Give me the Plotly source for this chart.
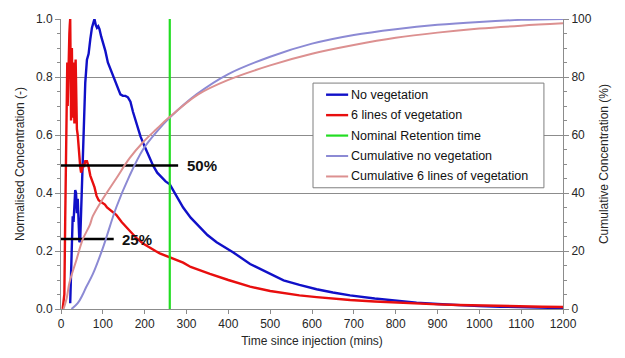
import plotly.graph_objects as go

# --- Normalised concentration, no vegetation ---
t_noveg = [22, 24, 26, 28, 30, 32, 34, 36, 38, 40, 42, 44, 46, 48, 50, 52, 55, 58, 62, 66,
           70, 74, 78, 80, 83, 86, 89, 92, 96, 100, 106, 112, 120, 128, 136, 142, 148, 154,
           160, 166, 172, 180, 190, 200, 210, 220, 230, 240, 250, 260, 275, 292, 310, 332,
           350, 372, 400, 412, 452, 500, 532, 570, 611, 650, 691, 750, 800, 850, 900, 950,
           1000, 1050, 1100, 1150, 1200]
c_noveg = [0.02, 0.12, 0.25, 0.32, 0.30, 0.36, 0.41, 0.40, 0.33, 0.38, 0.28, 0.23, 0.24, 0.33,
           0.45, 0.55, 0.68, 0.78, 0.86, 0.88, 0.93, 0.97, 0.99, 1.00, 0.98, 0.97, 0.975, 0.965,
           0.94, 0.92, 0.89, 0.85, 0.82, 0.79, 0.76, 0.74, 0.735, 0.735, 0.73, 0.715, 0.68,
           0.64, 0.595, 0.56, 0.525, 0.495, 0.47, 0.455, 0.44, 0.43, 0.39, 0.35, 0.315, 0.28,
           0.255, 0.23, 0.205, 0.195, 0.155, 0.12, 0.099, 0.083, 0.068, 0.057, 0.047, 0.036,
           0.028, 0.022, 0.017, 0.013, 0.010, 0.008, 0.006, 0.004, 0.003]

# --- Normalised concentration, 6 lines of vegetation ---
t_veg = [4, 8, 10, 12, 14, 15, 16, 17, 18, 19, 20, 21, 22, 23, 24, 25, 26, 27, 28, 29, 30,
         31, 32, 33, 34, 35, 36, 37, 38, 40, 42, 44, 46, 48, 50, 52, 55, 58, 62, 66, 70, 75,
         80, 85, 90, 95, 100, 105, 110, 120, 132, 145, 155, 164, 180, 196, 213, 226, 236,
         258, 275, 292, 310, 328, 356, 400, 452, 500, 532, 570, 611, 650, 691, 750, 800,
         850, 900, 950, 1000, 1050, 1100, 1150, 1200]
c_veg = [0.0, 0.05, 0.30, 0.60, 0.78, 0.85, 0.70, 0.80, 0.88, 0.92, 0.95, 0.98, 1.00, 0.85,
         0.65, 0.78, 0.90, 0.80, 0.66, 0.72, 0.85, 0.75, 0.64, 0.70, 0.82, 0.86, 0.78, 0.68,
         0.62, 0.60, 0.55, 0.50, 0.49, 0.47, 0.48, 0.50, 0.49, 0.51, 0.51, 0.49, 0.46, 0.44,
         0.42, 0.39, 0.375, 0.37, 0.365, 0.36, 0.35, 0.34, 0.325, 0.30, 0.285, 0.27, 0.245,
         0.226, 0.21, 0.20, 0.192, 0.18, 0.17, 0.16, 0.145, 0.135, 0.121, 0.10, 0.077, 0.062,
         0.054, 0.047, 0.041, 0.036, 0.031, 0.026, 0.022, 0.019, 0.016, 0.014, 0.012, 0.010,
         0.009, 0.008, 0.007]

# --- Cumulative concentration (%) ---
t_cum_noveg = [25, 40, 52, 60, 76, 100, 132, 164, 196, 228, 260, 324, 400, 500, 600, 700,
               800, 900, 1000, 1100, 1200]
cum_noveg = [0, 2, 5, 7.5, 12, 21, 35, 46, 55, 61, 66, 74, 81, 87, 91.5, 94.5, 96.5, 98,
             99, 99.7, 100]

t_cum_veg = [6, 14, 20, 37, 52, 69, 76, 100, 132, 164, 196, 228, 258, 328, 400, 500, 600,
             700, 800, 900, 1000, 1100, 1200]
cum_veg = [0, 4, 9, 17, 24, 29, 32, 38, 45, 52, 57.5, 62, 66, 74, 79, 84, 88, 91, 93.5,
           95.3, 96.7, 97.7, 98.5]

# Nominal retention time (mins)
retention_time = 260

# Reference levels drawn as black bars with labels
ref_levels = [0.495, 0.241]
ref_ends = [280, 126]
ref_labels = ["50%", "25%"]
ref_label_x = [296, 142]

# Series names and colours (legend order)
series_names = ["No vegetation", "6 lines of vegetation", "Nominal Retention time",
                "Cumulative no vegetation", "Cumulative 6 lines of vegetation"]
series_colors = ["#1010c8", "#e80e0e", "#22dd22", "#8c8ad4", "#dc9090"]
series_widths = [2.4, 2.4, 2.2, 2.0, 2.0]

FONT = "Liberation Sans, Arial, sans-serif"
TXT = "#262626"
GRID = "#8c8c8c"

fig = go.Figure()

fig.add_trace(go.Scatter(x=t_noveg, y=c_noveg, mode="lines", name=series_names[0],
                         line=dict(color=series_colors[0], width=series_widths[0])))
fig.add_trace(go.Scatter(x=t_veg, y=c_veg, mode="lines", name=series_names[1],
                         line=dict(color=series_colors[1], width=series_widths[1])))
fig.add_trace(go.Scatter(x=[retention_time, retention_time], y=[0, 1], mode="lines",
                         name=series_names[2],
                         line=dict(color=series_colors[2], width=series_widths[2])))
fig.add_trace(go.Scatter(x=t_cum_noveg, y=cum_noveg, mode="lines", name=series_names[3],
                         line=dict(color=series_colors[3], width=series_widths[3],
                                   shape="spline"), yaxis="y2"))
fig.add_trace(go.Scatter(x=t_cum_veg, y=cum_veg, mode="lines", name=series_names[4],
                         line=dict(color=series_colors[4], width=series_widths[4],
                                   shape="spline"), yaxis="y2"))

for lvl, end, lab, lx in zip(ref_levels, ref_ends, ref_labels, ref_label_x):
    fig.add_trace(go.Scatter(x=[-4, end], y=[lvl, lvl], mode="lines", showlegend=False,
                             cliponaxis=False, line=dict(color="black", width=2.5)))
    fig.add_annotation(x=lx, y=lvl, text="<b>%s</b>" % lab, showarrow=False,
                       xanchor="left", yanchor="middle",
                       font=dict(family=FONT, size=15, color="#111"))

# Boxed key inside the plot area (paper coordinates)
key_x0, key_x1 = 0.502, 0.962
key_y0, key_y1 = 0.418, 0.779
key_row_top = 0.739
key_row_step = 0.0705
fig.add_shape(type="rect", xref="paper", yref="paper", x0=key_x0, x1=key_x1,
              y0=key_y0, y1=key_y1, line=dict(color="#7f7f7f", width=1),
              fillcolor="white", layer="above")
for i, (nm, col, w) in enumerate(zip(series_names, series_colors, series_widths)):
    yy = key_row_top - i * key_row_step
    fig.add_shape(type="line", xref="paper", yref="paper", x0=key_x0 + 0.026,
                  x1=key_x0 + 0.070, y0=yy, y1=yy, layer="above",
                  line=dict(color=col, width=w))
    fig.add_annotation(xref="paper", yref="paper", x=key_x0 + 0.072, y=yy, text=nm,
                       showarrow=False, xanchor="left", yanchor="middle",
                       font=dict(family=FONT, size=12.5, color="#111"))

fig.update_layout(
    width=625, height=358,
    margin=dict(l=61, r=62, t=15, b=49),
    paper_bgcolor="white", plot_bgcolor="white",
    font=dict(family=FONT, size=12, color=TXT),
    showlegend=False,
    xaxis=dict(range=[0, 1200], dtick=100, showgrid=False, zeroline=False,
               showline=True, linecolor=GRID, ticks="outside", ticklen=4,
               tickcolor=GRID,
               title=dict(text="Time since injection (mins)", standoff=6,
                          font=dict(size=12))),
    yaxis=dict(range=[0, 1], dtick=0.2, tickformat=".1f", showgrid=True,
               gridcolor=GRID, gridwidth=1, zeroline=False, showline=True,
               linecolor=GRID, ticks="outside", ticklen=5, tickcolor=GRID,
               minor=dict(dtick=0.05, ticks="outside", ticklen=3, tickcolor=GRID),
               title=dict(text="Normalised Concentration (-)", standoff=8,
                          font=dict(size=12))),
    yaxis2=dict(range=[0, 100], dtick=20, overlaying="y", side="right",
                showgrid=False, zeroline=False, showline=True, linecolor=GRID,
                ticks="outside", ticklen=5, tickcolor=GRID,
                minor=dict(dtick=5, ticks="outside", ticklen=3, tickcolor=GRID),
                title=dict(text="Cumulative Concentration (%)", standoff=8,
                           font=dict(size=12))),
)

fig.write_html("out.html")
